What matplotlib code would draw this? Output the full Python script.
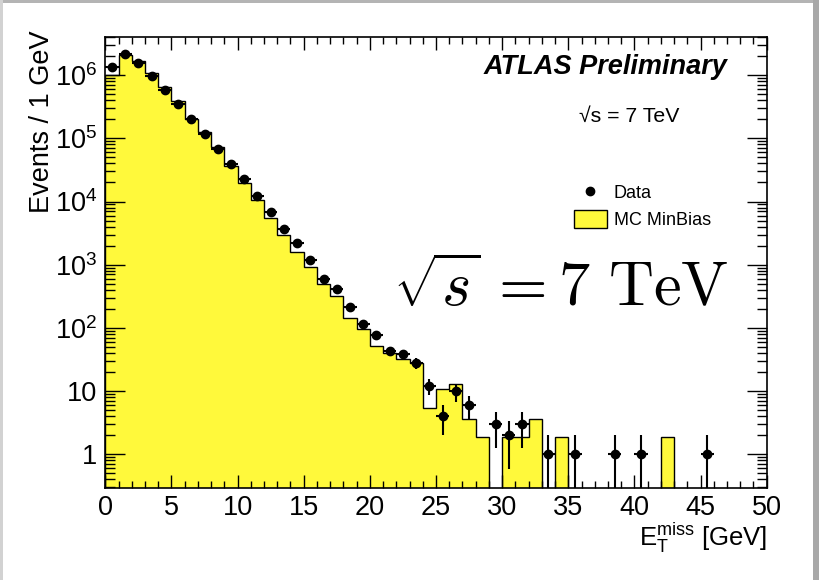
import numpy as np
import matplotlib
matplotlib.use("Agg")
import matplotlib.pyplot as plt
from matplotlib.ticker import FixedLocator, MultipleLocator, LogLocator, NullFormatter
from matplotlib.patches import Rectangle, Patch
from matplotlib.lines import Line2D

plt.rcParams["font.family"] = ["Liberation Sans", "DejaVu Sans"]
plt.rcParams["mathtext.fontset"] = "custom"
plt.rcParams["mathtext.rm"] = "Liberation Sans"
plt.rcParams["mathtext.it"] = "Liberation Sans:italic"
plt.rcParams["mathtext.bf"] = "Liberation Sans:bold"

# Missing transverse energy, 1 GeV bins from 0 to 50 GeV
bin_edges = np.arange(0, 51, 1)

data_counts = np.array([
    1.33e6, 2.16e6, 1.54e6, 9.7e5, 5.8e5, 3.5e5, 2.0e5, 1.17e5, 6.8e4, 3.9e4,
    2.25e4, 1.24e4, 6.7e3, 3.7e3, 2.2e3, 1190, 600, 417, 212, 116,
    77, 43, 38, 28, 12, 4, 10, 6, 0, 3,
    2, 3, 0, 1, 0, 1, 0, 0, 1, 0,
    1, 0, 0, 0, 0, 1, 0, 0, 0, 0,
])

mc_counts = np.array([
    1.0e6, 2.09e6, 1.69e6, 1.09e6, 6.4e5, 3.85e5, 2.04e5, 1.26e5, 7.2e4, 3.6e4,
    1.94e4, 1.06e4, 5.5e3, 2.95e3, 1.57e3, 910, 495, 320, 142, 96,
    52, 40.5, 31.8, 28, 5.5, 11, 13.1, 3.6, 1.85, 0,
    1.85, 1.85, 3.6, 0, 1.85, 0, 0, 0, 0, 0,
    0, 0, 1.85, 0, 0, 0, 0, 0, 0, 0,
])

ytick_values = [1, 10, 1e2, 1e3, 1e4, 1e5, 1e6]
ytick_labels = ["1", "10", "$10^{2}$", "$10^{3}$", "$10^{4}$", "$10^{5}$", "$10^{6}$"]
xtick_values = [0, 5, 10, 15, 20, 25, 30, 35, 40, 45, 50]

W, H = 820, 580
fig = plt.figure(figsize=(W / 100, H / 100), dpi=100)
fig.patch.set_facecolor("white")

# axes frame in pixel coordinates
x0, x1, y_top, y_bot = 105.3, 766.7, 36.7, 488.3
ax = fig.add_axes([x0 / W, 1 - y_bot / H, (x1 - x0) / W, (y_bot - y_top) / H])
ax.set_yscale("log")
ax.set_xlim(0, 50)
ax.set_ylim(0.29, 4.05e6)

yellow = "#fff93b"
floor = 1e-3
mc_draw = np.where(mc_counts > 0, mc_counts, floor)
ax.stairs(mc_draw, bin_edges, baseline=floor, fill=True, color=yellow, zorder=1)
ax.stairs(mc_draw, bin_edges, baseline=floor, fill=False, color="black",
          linewidth=1.0, zorder=2)

# data points with Poisson errors
centers = 0.5 * (bin_edges[:-1] + bin_edges[1:])
has = data_counts > 0
n = data_counts[has]
err = np.sqrt(n)
err_lo = np.where(n - err > 0, err, n - 1e-2)
ax.errorbar(centers[has], n, yerr=[err_lo, err], xerr=0.5, fmt="o",
            color="black", markersize=6, elinewidth=1.5, capsize=0, zorder=3)

# ticks, ROOT-like: inside, on all sides
ax.xaxis.set_major_locator(FixedLocator(xtick_values))
ax.xaxis.set_minor_locator(MultipleLocator(1))
ax.yaxis.set_major_locator(FixedLocator(ytick_values))
ax.set_yticklabels(ytick_labels)
ax.yaxis.set_minor_locator(LogLocator(base=10, subs=np.arange(2, 10), numticks=20))
ax.yaxis.set_minor_formatter(NullFormatter())
ax.tick_params(axis="both", which="both", direction="in", top=True, right=True,
               labelsize=19.5, width=1.0, color="black")
ax.tick_params(axis="x", which="major", length=9.7, pad=5)
ax.tick_params(axis="x", which="minor", length=4.8)
ax.tick_params(axis="y", which="major", length=14.4, pad=6)
ax.tick_params(axis="y", which="minor", length=7.2)
for s in ax.spines.values():
    s.set_linewidth(1.2)

# axis titles
fig.text(42 / W, 1 - 30 / H, "Events / 1 GeV", rotation=90, ha="center", va="top",
         fontsize=19.5)
fig.text(767 / W, 1 - 546 / H, r"$\mathrm{E}_{\mathrm{T}}^{\mathrm{miss}}$ [GeV]",
         ha="right", va="baseline", fontsize=18.5)

# labels inside the frame
fig.text(727 / W, 1 - 74 / H, "ATLAS Preliminary", ha="right", va="baseline",
         fontsize=19.5, fontweight="bold", fontstyle="italic")
fig.text(629 / W, 1 - 122 / H, "\u221as = 7 TeV", ha="center", va="baseline",
         fontsize=15.3)
fig.text(560.5 / W, 1 - 307 / H, r"$\sqrt{s}\,= 7\ \mathrm{TeV}$", ha="center",
         va="baseline", fontsize=45, math_fontfamily="cm")

handles = [
    Line2D([], [], marker="o", linestyle="none", color="black", markersize=6),
    Patch(facecolor=yellow, edgecolor="black", linewidth=1.0),
]
ax.legend(handles, ["Data", "MC MinBias"], loc="upper left",
          bbox_to_anchor=(574.3 / W, 1 - 183.5 / H), bbox_transform=fig.transFigure,
          frameon=False, fontsize=13, handlelength=1.79, handleheight=1.11,
          handletextpad=0.4, labelspacing=0.44, borderpad=0, borderaxespad=0)

# grey window border around the image
fig.patches.append(Rectangle((0, 1 - 3 / H), 1, 3 / H, transform=fig.transFigure,
                             facecolor="#b4b4b4", edgecolor="none", zorder=10))
fig.patches.append(Rectangle((0, 0), 3 / W, 1, transform=fig.transFigure,
                             facecolor="#d2d2d2", edgecolor="none", zorder=10))
fig.patches.append(Rectangle((813 / W, 0), 7 / W, 1, transform=fig.transFigure,
                             facecolor="#a8a8a8", edgecolor="none", zorder=10))

fig.savefig("out.png", dpi=100)
